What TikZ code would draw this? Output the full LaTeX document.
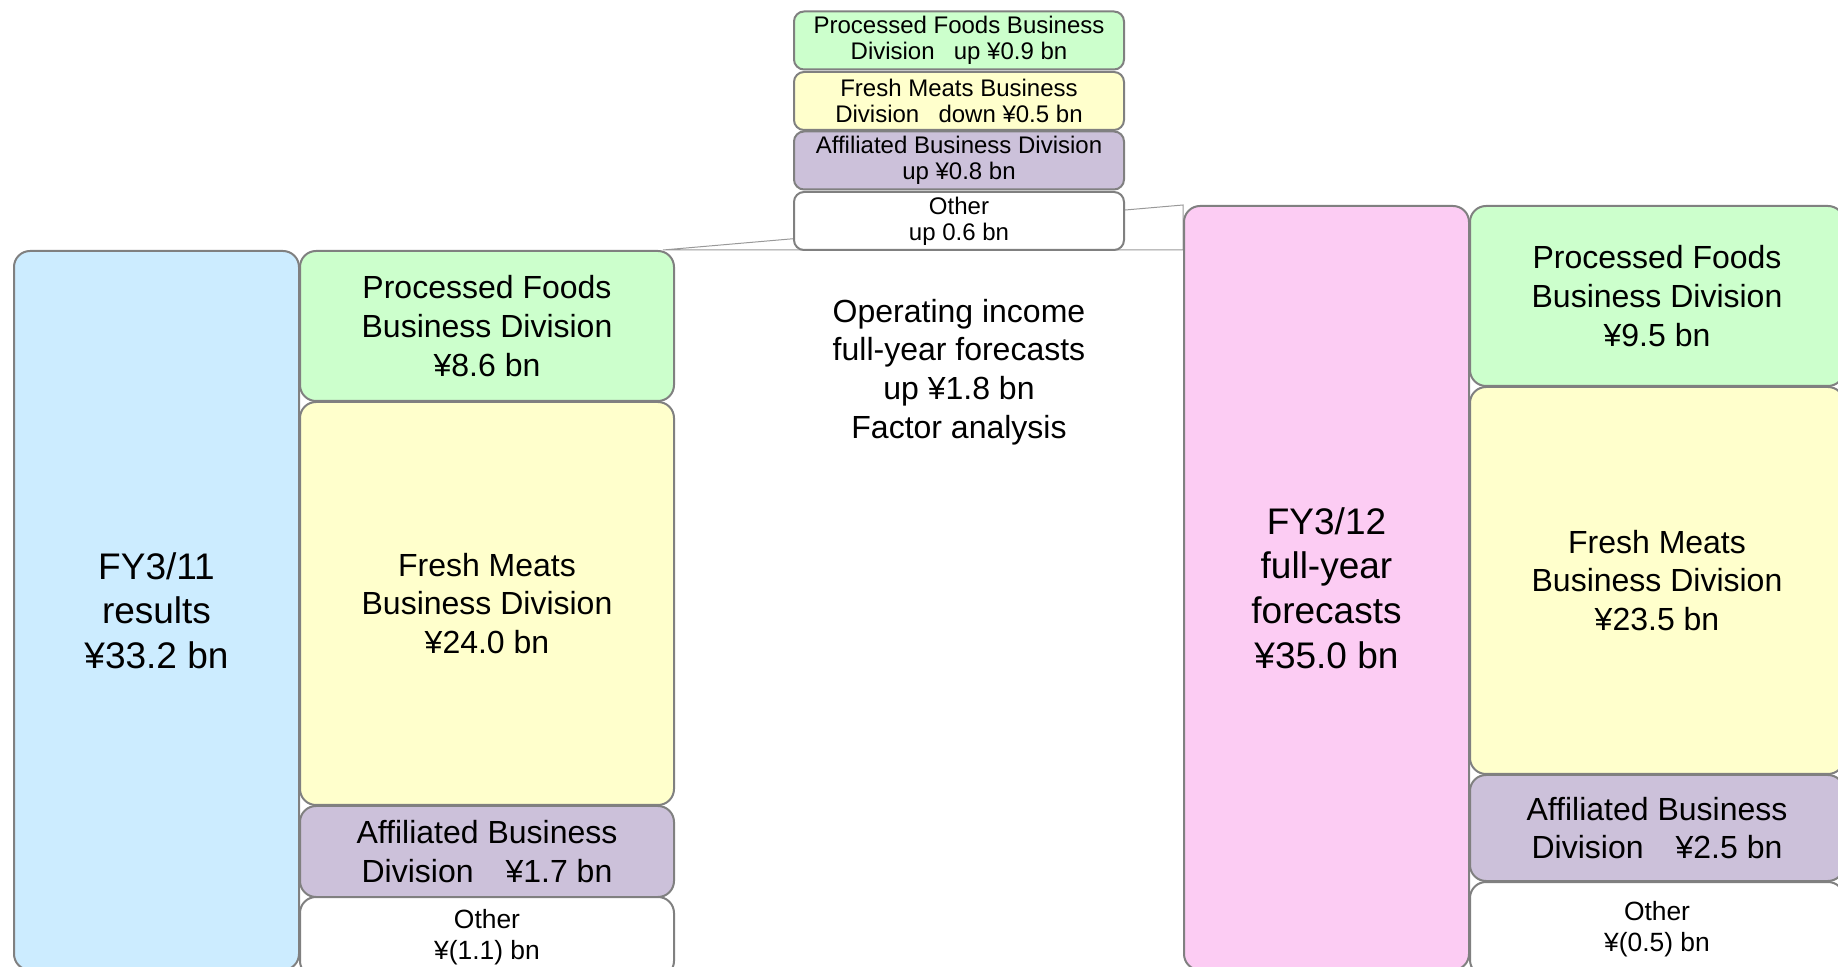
\documentclass[tikz,border=0pt]{standalone}
\usepackage{fontspec}
\setmainfont{Liberation Sans}
\usepackage{tikz}
\usetikzlibrary{backgrounds}

\definecolor{fyblue}{HTML}{CCECFF}
\definecolor{foodgreen}{HTML}{CCFFCC}
\definecolor{meatyellow}{HTML}{FFFFCC}
\definecolor{affpurple}{HTML}{CCC1DA}
\definecolor{fypink}{HTML}{FCCCF3}
\definecolor{edgegray}{HTML}{808080}

\begin{document}
\begin{tikzpicture}[x=0.5pt, y=-0.5pt,
  box/.style={draw=edgegray, line width=1pt, rounded corners=8pt, inner sep=0pt, align=center, font=\fontsize{16}{19.3}\selectfont},
  total/.style={box, minimum width=142.5pt, font=\fontsize{18.5}{22.3}\selectfont},
  seg/.style={box, minimum width=187pt},
  other/.style={seg, fill=white, font=\fontsize{13.2}{15.8}\selectfont},
  delta/.style={box, minimum width=165pt, minimum height=29pt, rounded corners=5pt, font=\fontsize{12}{13}\selectfont},
  link/.style={draw=edgegray!80, line width=0.5pt}
]
\useasboundingbox (0,0) rectangle (1838,967);

% FY3/11 results
\node[total, fill=fyblue, minimum height=359.5pt] (res) at (156.5, 610.5) {FY3/11\\results\\¥33.2 bn};
\node[seg, fill=foodgreen, minimum height=75pt] (lfood) at (487, 326) {Processed Foods\\Business Division\\¥8.6 bn};
\node[seg, fill=meatyellow, minimum height=201.5pt] (lmeat) at (487, 603.5) {Fresh Meats\\Business Division\\¥24.0 bn};
\node[seg, fill=affpurple, minimum height=45.5pt] (laff) at (487, 851.5) {Affiliated Business\\Division\quad ¥1.7 bn};
\node[other, minimum height=40pt] (loth) at (487, 937) {Other\\¥(1.1) bn};

% changes
\node[delta, fill=foodgreen] (mfood) at (959, 40.5) {Processed Foods Business\\Division\hspace{0.8em}up ¥0.9 bn};
\node[delta, fill=meatyellow] (mmeat) at (959, 101) {Fresh Meats Business\\Division\hspace{0.8em}down ¥0.5 bn};
\node[delta, fill=affpurple] (maff) at (959, 160.5) {Affiliated Business Division\\up ¥0.8 bn};
\node[delta, fill=white] (moth) at (959, 221) {Other\\up 0.6 bn};

\node[align=center, font=\fontsize{16}{19.3}\selectfont] (cap) at (959, 372) {Operating income\\full-year forecasts\\up ¥1.8 bn\\Factor analysis};

% FY3/12 forecasts
\node[total, fill=fypink, minimum height=382pt] (fc) at (1326.5, 588) {FY3/12\\full-year\\forecasts\\¥35.0 bn};
\node[seg, fill=foodgreen, minimum height=90pt] (rfood) at (1657, 296) {Processed Foods\\Business Division\\¥9.5 bn};
\node[seg, fill=meatyellow, minimum height=193.5pt] (rmeat) at (1657, 580.5) {Fresh Meats\\Business Division\\¥23.5 bn};
\node[seg, fill=affpurple, minimum height=53pt] (raff) at (1657, 828) {Affiliated Business\\Division\quad ¥2.5 bn};
\node[other, minimum height=47pt] (roth) at (1657, 929) {Other\\¥(0.5) bn};

\begin{scope}[on background layer]
  \draw[link] ([xshift=-6pt]lfood.north east) -- (fc.north west) -- (fc.north west |- lfood.north east) -- cycle;
\end{scope}

\end{tikzpicture}
\end{document}
